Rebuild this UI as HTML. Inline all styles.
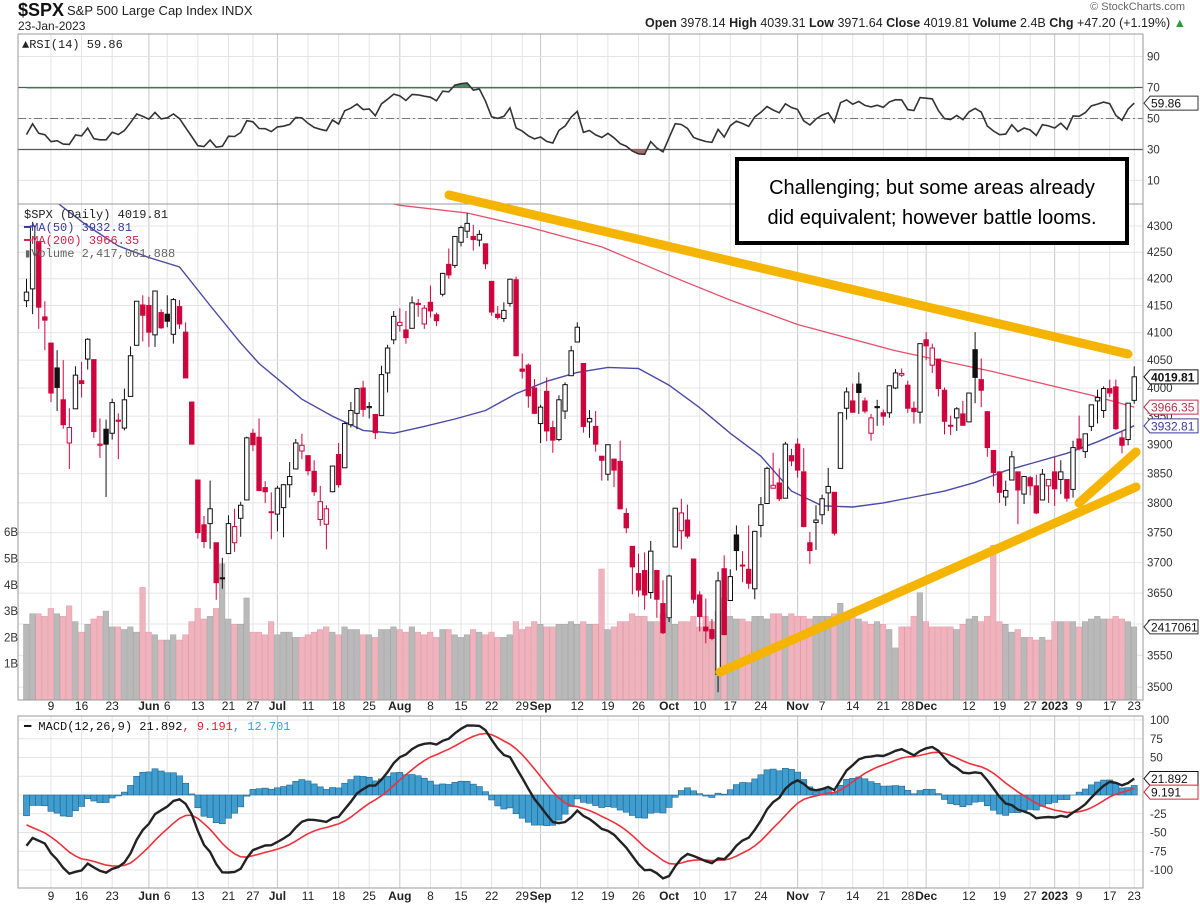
<!DOCTYPE html>
<html><head><meta charset="utf-8"><title>$SPX chart</title>
<style>
html,body{margin:0;padding:0;background:#fff;}
svg{display:block;font-family:"Liberation Sans",Arial,sans-serif;}
</style></head>
<body>
<svg id="chart" width="1200" height="910" viewBox="0 0 1200 910" xmlns="http://www.w3.org/2000/svg">
<defs>
<clipPath id="mainClip"><rect x="18" y="204" width="1125" height="496"/></clipPath>
<clipPath id="rsiClip"><rect x="18" y="34" width="1125" height="170"/></clipPath>
<clipPath id="macdClip"><rect x="18" y="716" width="1125" height="172"/></clipPath>
<clipPath id="above70"><rect x="18" y="34" width="1125" height="54.5"/></clipPath>
<clipPath id="below30"><rect x="18" y="149.5" width="1125" height="60"/></clipPath>
</defs>
<rect x="0" y="0" width="1200" height="910" fill="#fff"/>
<g id="header">
<text x="18" y="16" font-size="18" font-weight="bold" fill="#111">$SPX</text>
<text x="67" y="15" font-size="13" fill="#222">S&amp;P 500 Large Cap Index  INDX</text>
<text x="18" y="30" font-size="12" fill="#222">23-Jan-2023</text>
<text x="1185" y="10" font-size="11" fill="#666" text-anchor="end">© StockCharts.com</text>
<text x="1186" y="27" font-size="12.5" fill="#222" text-anchor="end"><tspan font-weight="bold">Open</tspan> 3978.14 <tspan font-weight="bold">High</tspan> 4039.31 <tspan font-weight="bold">Low</tspan> 3971.64 <tspan font-weight="bold">Close</tspan> 4019.81 <tspan font-weight="bold">Volume</tspan> 2.4B <tspan font-weight="bold">Chg</tspan> +47.20 (+1.19%) <tspan fill="#2a9d3a">▲</tspan></text>
</g>
<g id="grid"></g>
<g id="rsiLayer"></g>
<g id="mainLayer"></g>
<g id="macdLayer"></g>
<g id="axisLayer"></g>
<g id="annot">
<line x1="449" y1="195" x2="1128" y2="354" stroke="#f5b400" stroke-width="9" stroke-linecap="round"/>
<line x1="720" y1="672" x2="1136" y2="487" stroke="#f5b400" stroke-width="9" stroke-linecap="round"/>
<line x1="1079" y1="503" x2="1136" y2="452" stroke="#f5b400" stroke-width="9" stroke-linecap="round"/>
<rect x="737" y="159" width="390" height="84" fill="#fff" stroke="#000" stroke-width="4"/>
<text x="932" y="194" font-size="20" text-anchor="middle" fill="#000">Challenging; but some areas already</text>
<text x="932" y="224" font-size="20" text-anchor="middle" fill="#000">did equivalent; however battle looms.</text>
</g>
</svg>
<script>
// ---- data ----
const opens = [4159,4181,4270,4129,4081,4036,3979,3903,3963,4013,4052,4051,3899,3927,3920,3943,3929,3985,4077,4151,
4150,4096,4137,4134,4097,4148,4101,3975,3839,3763,3765,3733,3675,3715,3733,3774,3805,3920,3913,3826,3785,
3781,3792,3831,3858,3889,3881,3854,3772,3764,3819,3883,3860,3935,3955,4000,3965,3953,3951,4027,4087,
4113,4105,4108,4154,4116,4156,4133,4171,4227,4225,4269,4290,4280,4273,4266,4195,4134,4126,4154,4198,4034,4041,4000,
3937,3994,3930,3909,3959,4022,4083,4044,3940,3932,3880,3849,3875,3871,3782,3727,3682,3687,3651,3687,3633,
3610,3726,3753,3771,3706,3647,3595,3591,3520,3690,3638,3746,3695,3689,3657,3762,3799,3825,3834,3808,3881,
3901,3853,3733,3767,3780,3817,3818,3859,3964,3977,4007,3977,3920,3967,3956,3956,4000,4023,4005,3964,3957,
4087,4041,4052,3996,3934,3947,3954,3940,4069,4015,3958,3890,3853,3810,3839,3853,3815,3843,3829,3805,3829,
3853,3840,3840,3823,3910,3888,3932,3977,3960,3999,4002,3912,3909,3978];
const highs = [4200,4308,4270,4158,4082,4068,4050,3964,4039,4047,4090,4051,3946,3944,3981,3955,3999,4075,4158,4169,
4166,4177,4143,4169,4164,4160,4119,3975,3839,3778,3838,3733,3708,3779,3790,3802,3914,3928,3946,3837,3818,
3829,3832,3870,3910,3919,3881,3873,3829,3796,3864,3903,3939,3975,3999,4013,3975,3954,4040,4078,4140,
4145,4140,4167,4162,4151,4187,4137,4211,4257,4280,4301,4325,4302,4292,4266,4195,4149,4156,4200,4204,4062,4044,4016,
3970,4019,3942,3987,4010,4076,4119,4044,3961,3959,3880,3900,3876,3907,3791,3727,3715,3717,3736,3687,3671,
3680,3791,3807,3797,3706,3653,3641,3608,3685,3712,3689,3762,3719,3762,3753,3810,3862,3886,3859,3905,3893,
3911,3894,3751,3796,3814,3860,3818,3956,4001,4008,4028,3983,3954,3979,3962,4004,4034,4035,4013,3976,4080,
4101,4080,4052,4001,3951,3966,3977,3991,4101,4053,3958,3890,3854,3838,3889,3853,3845,3846,3848,3858,3840,
3879,3873,3840,3907,3951,3919,3970,3997,4003,4015,4015,3923,3973,4039];
const lows = [4147,4134,4107,4068,3975,3959,3928,3858,3963,3983,4033,3912,3877,3810,3909,3875,3925,3985,4077,4084,
4074,4074,4107,4110,4080,4107,4018,3901,3740,3724,3723,3639,3657,3715,3718,3743,3805,3889,3820,3800,3739,
3752,3742,3809,3858,3875,3847,3812,3761,3722,3818,3826,3860,3930,3927,3949,3946,3910,3951,3992,4079,
4102,4080,4108,4129,4107,4128,4112,4167,4200,4220,4261,4277,4253,4261,4218,4131,4124,4120,4148,4057,4017,3965,3954,
3903,3906,3886,3906,3945,4022,4083,3921,3912,3888,3838,3838,3827,3789,3749,3648,3644,3623,3641,3610,3584,
3603,3726,3722,3740,3633,3588,3569,3574,3492,3584,3638,3687,3668,3657,3640,3742,3799,3825,3803,3808,3863,
3843,3759,3698,3721,3764,3786,3745,3859,3944,3956,3954,3955,3907,3933,3934,3947,3998,4020,3956,3937,3937,
4050,4027,3985,3918,3917,3924,3933,3939,3973,3966,3879,3828,3800,3795,3839,3764,3798,3813,3781,3805,3800,
3795,3815,3802,3809,3890,3877,3924,3937,3947,3984,3926,3885,3899,3972];
const closes = [4175,4300,4147,4123,3991,4001,3935,3930,4023,4008,4088,3923,3901,3901,3974,3941,3979,4058,4158,4132,
4101,4177,4109,4121,4161,4116,4018,3901,3750,3735,3790,3667,3675,3765,3760,3796,3912,3900,3821,3819,3785,
3825,3831,3845,3903,3899,3855,3819,3802,3790,3863,3831,3937,3960,3999,3962,3967,3921,4024,4072,4130,
4119,4091,4155,4152,4145,4140,4122,4210,4207,4280,4297,4305,4274,4284,4228,4138,4128,4141,4199,4058,4030,3986,3955,
3966,3924,3908,3979,4006,4067,4110,3932,3946,3901,3873,3900,3856,3790,3758,3693,3655,3647,3719,3640,3586,
3678,3791,3783,3744,3640,3612,3589,3577,3670,3583,3677,3720,3696,3666,3752,3797,3859,3830,3807,3901,3872,
3856,3760,3720,3771,3807,3828,3749,3956,3993,3957,3992,3959,3947,3965,3950,4004,4027,4026,3964,3958,4080,
4076,4072,3999,3941,3934,3963,3934,3991,4019,3996,3895,3852,3818,3821,3879,3822,3845,3829,3783,3849,3840,
3824,3853,3808,3895,3893,3919,3970,3983,3999,3991,3928,3899,3973,4020];
const volumes = [2.5,2.9,2.9,2.8,3.1,2.9,2.8,3.2,2.6,2.2,2.5,2.7,2.8,3.0,2.4,2.4,2.3,2.4,2.2,3.9,
2.2,2.1,1.9,1.9,2.1,1.9,2.1,2.6,3.1,2.7,2.8,3.1,4.8,2.7,2.5,2.5,3.5,2.2,2.2,2.1,2.6,
2.1,2.2,2.2,2.0,2.0,2.1,2.2,2.3,2.4,2.2,2.1,2.4,2.3,2.3,2.1,2.1,2.0,2.3,2.3,2.4,
2.3,2.2,2.4,2.2,2.1,2.2,2.0,2.3,2.3,2.1,2.0,2.1,2.3,2.2,2.1,2.2,2.0,2.0,2.1,2.6,2.3,2.4,2.6,
2.5,2.4,2.4,2.5,2.5,2.6,2.5,2.6,2.5,2.5,4.6,2.3,2.4,2.6,2.6,2.9,2.8,2.8,2.6,2.6,2.9,
2.7,2.5,2.6,2.6,2.8,2.4,2.8,2.6,3.0,3.5,2.8,2.7,2.7,2.6,2.8,2.8,2.7,2.9,2.9,2.8,2.9,
2.8,2.8,2.7,2.8,2.8,2.8,2.9,3.3,2.9,2.8,2.7,2.6,2.5,2.6,2.5,2.3,1.6,2.4,2.4,2.8,3.7,
2.6,2.4,2.4,2.4,2.4,2.3,2.5,2.7,2.8,2.6,2.8,5.5,2.6,2.5,2.2,2.3,2.0,2.0,1.9,2.0,1.9,
2.6,2.6,2.6,2.6,2.4,2.6,2.7,2.8,2.7,2.7,2.8,2.7,2.6,2.4];
const ma50Idx = [0,5,10,15,20,25,30,35,38,45,50,55,60,65,70,75,80,85,90,95,100,105,110,115,120,125,130,135,140,145,150,155,160,165,170,175,181];
const ma50Vals = [4400,4345,4300,4262,4240,4222,4150,4081,4044,3980,3950,3925,3920,3932,3945,3960,3990,4012,4028,4037,4035,4005,3965,3920,3880,3820,3795,3793,3800,3810,3820,3835,3855,3870,3885,3905,3933];
const ma200Idx = [55,61,72,82,94,107,115,126,142,158,174,181];
const ma200Vals = [4355,4340,4325,4298,4260,4197,4160,4115,4067,4029,3987,3966];
const holidays = ['2022-05-30','2022-06-20','2022-07-04','2022-09-05','2022-11-24','2022-12-26','2023-01-02','2023-01-16'];
const tickDates = ['2022-05-09','2022-05-16','2022-05-23','2022-06-01','2022-06-06','2022-06-13','2022-06-21','2022-06-27','2022-07-01','2022-07-11','2022-07-18','2022-07-25','2022-08-01','2022-08-08','2022-08-15','2022-08-22','2022-08-29','2022-09-01','2022-09-12','2022-09-19','2022-09-26','2022-10-03','2022-10-10','2022-10-17','2022-10-24','2022-11-01','2022-11-07','2022-11-14','2022-11-21','2022-11-28','2022-12-01','2022-12-12','2022-12-19','2022-12-27','2023-01-03','2023-01-09','2023-01-17','2023-01-23'];
const tickLabels = ['9','16','23','Jun','6','13','21','27','Jul','11','18','25','Aug','8','15','22','29','Sep','12','19','26','Oct','10','17','24','Nov','7','14','21','28','Dec','12','19','27','2023','9','17','23'];
const priceTicks = [4300,4250,4200,4150,4100,4050,4000,3950,3900,3850,3800,3750,3700,3650,3600,3550,3500];
const rsiTicks = [90,70,50,30,10];
const macdTicks = [100,75,50,25,0,-25,-50,-75,-100];
const volTicks = [6,5,4,3,2,1];
const seeds = {ema12:4245, ema26:4312, signal:-33, avgGain:30, avgLoss:48};

// ---- scales ----
const NS='http://www.w3.org/2000/svg';
const X0=26.5, DX=6.12;
const xi = i => X0 + i*DX;
const yP = p => 226 + Math.log(4300/p)*2240;
const yR = v => 196 - v*1.55;
const yM = v => 795 - v*0.75;
const yV = b => 690 - b*26.3;
function mk(tag, attrs, parent){const e=document.createElementNS(NS,tag);for(const k in attrs)e.setAttribute(k,attrs[k]);parent.appendChild(e);return e;}
function txt(s, attrs, parent){const e=mk('text',attrs,parent);e.textContent=s;return e;}

// trading dates
const dates=[];
(function(){let d=new Date(Date.UTC(2022,4,3));const end=Date.UTC(2023,0,23);
while(d.getTime()<=end){const dw=d.getUTCDay();const s=d.toISOString().slice(0,10);
if(dw!==0&&dw!==6&&holidays.indexOf(s)<0)dates.push(s);d=new Date(d.getTime()+86400000);}})();
const dateIdx = s => dates.indexOf(s);

const grid=document.getElementById('grid');
const rsiL=document.getElementById('rsiLayer');
const mainL=document.getElementById('mainLayer');
const macdL=document.getElementById('macdLayer');
const axL=document.getElementById('axisLayer');

// panels background grid
const panels=[[34,204],[204,700],[716,888]];
tickDates.forEach((d,k)=>{
  const x=xi(dateIdx(d));
  const isMonth=isNaN(+tickLabels[k])||tickLabels[k]==='2023';
  panels.forEach(p=>{
    const l=mk('line',{x1:x,x2:x,y1:p[0],y2:p[1],stroke:isMonth?'#c8c8c8':'#e4e4e4','stroke-width':1},grid);
    
    
  });
  [710,900].forEach(y=>{
    const t=txt(tickLabels[k],{x:x,y:y,'font-size':12,'text-anchor':'middle',fill:'#222','font-weight':isMonth?'bold':'normal'},axL);
    
    
  });
});
priceTicks.forEach(p=>{
  const y=yP(p);
  const l=mk('line',{x1:18,x2:1143,y1:y,y2:y,stroke:'#e4e4e4'},grid);
  
  
  const t=txt(String(p),{x:1147,y:y+4,'font-size':11.5,fill:'#333'},axL);
  
  
});
rsiTicks.forEach(v=>{
  const y=yR(v);
  const l=mk('line',{x1:18,x2:1143,y1:y,y2:y,stroke:'#e4e4e4'},grid);
  
  
  const t=txt(String(v),{x:1147,y:y+4,'font-size':11.5,fill:'#333'},axL);
  
  
});
macdTicks.forEach(v=>{
  const y=yM(v);
  const l=mk('line',{x1:18,x2:1143,y1:y,y2:y,stroke:'#e4e4e4'},grid);
  
  
  const t=txt(String(v),{x:1150,y:y+4,'font-size':11.5,fill:'#333'},axL);
  
  
});
volTicks.forEach(b=>{
  const t=txt(b+'B',{x:4,y:yV(b)+4,'font-size':11.5,fill:'#333'},axL);
  
  
});

// volume bars
const volG=mk('g',{'clip-path':'url(#mainClip)'},mainL);
volumes.forEach((v,i)=>{
  const down=i>0&&closes[i]<closes[i-1];
  const y=yV(v);
  const r=mk('rect',{x:xi(i)-3,y:y,width:5.6,height:700-y,fill:down?'#eeb3bd':'#b9b9b9',stroke:down?'#e39aa6':'#a4a4a4','stroke-width':0.5},volG);
  
  
});

// moving averages
function maPath(idx,vals){return idx.map((i,k)=>(k?'L':'M')+xi(i).toFixed(1)+','+yP(vals[k]).toFixed(1)).join(' ');}
const maG=mk('g',{'clip-path':'url(#mainClip)'},mainL);
const m200=mk('path',{d:maPath(ma200Idx,ma200Vals),fill:'none',stroke:'#e5506b','stroke-width':1.3},maG);


const m50=mk('path',{d:maPath(ma50Idx,ma50Vals),fill:'none',stroke:'#4a4aa8','stroke-width':1.4},maG);



// candles
const cG=mk('g',{'clip-path':'url(#mainClip)'},mainL);
closes.forEach((c,i)=>{
  const o=opens[i],h=highs[i],l=lows[i];
  const down=i>0&&c<closes[i-1];
  const col=down?'#d0043c':'#111';
  const x=xi(i);
  const w=mk('line',{x1:x,x2:x,y1:yP(h),y2:yP(l),stroke:col,'stroke-width':1},cG);
  
  
  const top=yP(Math.max(o,c)),bot=yP(Math.min(o,c));
  const hollow=c>=o;
  const b=mk('rect',{x:x-2.2,y:top,width:4.4,height:Math.max(1,bot-top),fill:hollow?'#fff':col,stroke:col,'stroke-width':1},cG);
  
  
});

// RSI
const rsi=[];
(function(){let ag=seeds.avgGain,al=seeds.avgLoss,prev=4155;
closes.forEach(c=>{const ch=c-prev;prev=c;ag=(ag*13+Math.max(ch,0))/14;al=(al*13+Math.max(-ch,0))/14;rsi.push(100-100/(1+ag/al));});})();
[[70,'#555'],[30,'#555']].forEach(a=>{const l=mk('line',{x1:18,x2:1143,y1:yR(a[0]),y2:yR(a[0]),stroke:a[1],'stroke-width':1.3},rsiL);

});
const mid=mk('line',{x1:18,x2:1143,y1:yR(50),y2:yR(50),stroke:'#777','stroke-width':1,'stroke-dasharray':'8,3,2,3'},rsiL);


const rsiPts=rsi.map((v,i)=>xi(i).toFixed(1)+','+yR(v).toFixed(1));
const fillUp=mk('path',{d:'M'+xi(0)+','+yR(70)+' L'+rsiPts.join(' L')+' L'+xi(rsi.length-1)+','+yR(70)+' Z',fill:'#4d8a5a','clip-path':'url(#above70)'},rsiL);


const fillDn=mk('path',{d:'M'+xi(0)+','+yR(30)+' L'+rsiPts.join(' L')+' L'+xi(rsi.length-1)+','+yR(30)+' Z',fill:'#b36a6a','clip-path':'url(#below30)'},rsiL);


const rl=mk('polyline',{points:rsiPts.join(' '),fill:'none',stroke:'#333','stroke-width':1.6,'clip-path':'url(#rsiClip)'},rsiL);



// MACD
const macd=[],signal=[],hist=[];
(function(){let e12=seeds.ema12,e26=seeds.ema26,s=seeds.signal;const a12=2/13,a26=2/27,a9=2/10;
closes.forEach(c=>{e12+=a12*(c-e12);e26+=a26*(c-e26);const m=e12-e26;s+=a9*(m-s);macd.push(m);signal.push(s);hist.push(m-s);});})();
const mg=mk('g',{'clip-path':'url(#macdClip)'},macdL);
hist.forEach((h,i)=>{const y0=yM(0),y1=yM(h);
  const r=mk('rect',{x:xi(i)-3.06,y:Math.min(y0,y1),width:6.12,height:Math.abs(y1-y0),fill:'#3f9dd0',stroke:'#23658e','stroke-width':0.6},mg);
  
  });
const sl=mk('polyline',{points:signal.map((v,i)=>xi(i).toFixed(1)+','+yM(v).toFixed(1)).join(' '),fill:'none',stroke:'#f0303a','stroke-width':1.6},mg);


const ml=mk('polyline',{points:macd.map((v,i)=>xi(i).toFixed(1)+','+yM(v).toFixed(1)).join(' '),fill:'none',stroke:'#222','stroke-width':2.4},mg);



// panel borders
panels.forEach(p=>{const r=mk('rect',{x:18,y:p[0],width:1125,height:p[1]-p[0],fill:'none',stroke:'#9a9a9a','stroke-width':1},axL);

});

// legends
function legend(str,x,y,fill,name,weight){const t=txt(str,{x:x,y:y,'font-size':12,fill:fill,'font-family':'"Liberation Mono","DejaVu Sans Mono",monospace'},axL);

return t;}
legend('▲RSI(14) 59.86',22,48,'#222','rsi-legend');
legend('$SPX (Daily) 4019.81',24,218,'#222','price-legend');
legend('━MA(50) 3932.81',24,231,'#3a3aa0','ma50-legend');
legend('━MA(200) 3966.35',24,244,'#d8204a','ma200-legend');
legend('▮Volume 2,417,061,888',24,257,'#666','volume-legend');
const ml2=txt('',{x:24,y:730,'font-size':12,'font-family':'"Liberation Mono","DejaVu Sans Mono",monospace'},axL);


ml2.innerHTML='<tspan fill="#111">━ MACD(12,26,9) 21.892</tspan><tspan fill="#e02030">, 9.191</tspan><tspan fill="#3aa0d8">, 12.701</tspan>';

// value tags
function tag(str,y,col,name,bold){
  const g=mk('g',{},axL);
  
  
  mk('path',{d:`M1144,${y} l6,-7 h48 v14 h-48 z`,fill:'#fff',stroke:col,'stroke-width':1},g);
  txt(str,{x:1151,y:y+4.5,'font-size':12,fill:col==='#c0304a'?'#c0304a':(col==='#3a3aa0'?'#3a3aa0':'#111'),'font-weight':bold?'bold':'normal'},g);
}
tag('4019.81',yP(closes[closes.length-1]),'#111','last-price-tag',true);
tag('3966.35',yP(ma200Vals[ma200Vals.length-1]),'#c0304a','ma200-tag');
tag('3932.81',yP(ma50Vals[ma50Vals.length-1]),'#3a3aa0','ma50-tag');
tag('2417061',yV(volumes[volumes.length-1]),'#333','volume-tag');
tag('59.86',yR(rsi[rsi.length-1]),'#333','rsi-tag');
tag('21.892',yM(macd[macd.length-1]),'#111','macd-tag');
tag('9.191',yM(signal[signal.length-1])+4,'#e02030','signal-tag');
</script>
</body></html>
